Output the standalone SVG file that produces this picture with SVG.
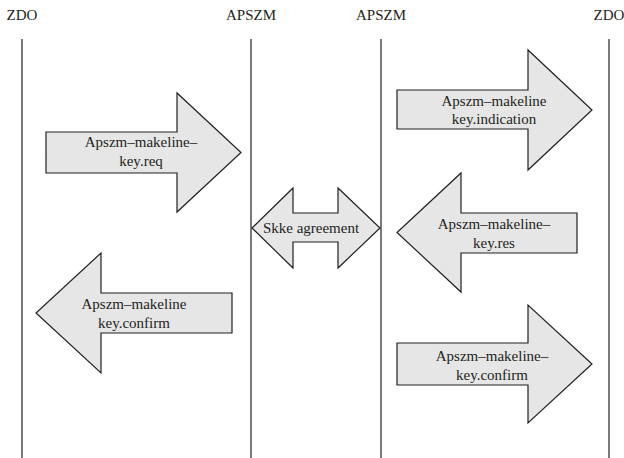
<svg xmlns="http://www.w3.org/2000/svg" width="624" height="458" viewBox="0 0 624 458">
<style>
text{font-family:'Liberation Serif','DejaVu Serif',serif;font-size:15px;fill:#231f20;text-anchor:middle}
.arr{fill:#e6e6e6;stroke:#231f20;stroke-width:1.2;stroke-linejoin:miter}
.life{stroke:#231f20;stroke-width:1.2;fill:none}
</style>
<rect width="624" height="458" fill="#ffffff"/>
<g id="lifelines" font-family="Liberation Serif, serif">
<text x="22" y="20">ZDO</text>
<text x="251" y="20">APSZM</text>
<text x="381" y="20">APSZM</text>
<text x="609" y="20">ZDO</text>
<line class="life" x1="22" y1="39" x2="22" y2="458"/>
<line class="life" x1="251" y1="39" x2="251" y2="458"/>
<line class="life" x1="381" y1="39" x2="381" y2="458"/>
<line class="life" x1="609" y1="39" x2="609" y2="458"/>
</g>
<g id="connectors">
<g id="req">
<polygon class="arr" points="46,132 177,132 177,93 241,152.5 177,212 177,173 46,173"/>
<text x="141" y="147">Apszm–makeline–</text>
<text x="141" y="166">key.req</text>
</g>
<g id="confirm-left">
<polygon class="arr" points="232,293 101,293 101,253 36,313 101,373 101,333 232,333"/>
<text x="134" y="309">Apszm–makeline</text>
<text x="134" y="328">key.confirm</text>
</g>
<g id="skke">
<polygon class="arr" points="252,228 293,188 293,213 338,213 338,188 380,228 338,268 338,242 293,242 293,268"/>
<text x="311" y="233">Skke agreement</text>
</g>
<g id="indication">
<polygon class="arr" points="397,90 528,90 528,50 592,110 528,170 528,129 397,129"/>
<text x="494" y="106">Apszm–makeline</text>
<text x="494" y="124">key.indication</text>
</g>
<g id="res">
<polygon class="arr" points="577,213 461,213 461,173 397,232.5 461,292 461,253 577,253"/>
<text x="494" y="229">Apszm–makeline–</text>
<text x="494" y="248">key.res</text>
</g>
<g id="confirm-right">
<polygon class="arr" points="397,343 528,343 528,305 592,364 528,423 528,385 397,385"/>
<text x="492" y="361">Apszm–makeline–</text>
<text x="492" y="380">key.confirm</text>
</g>
</g>
</svg>
